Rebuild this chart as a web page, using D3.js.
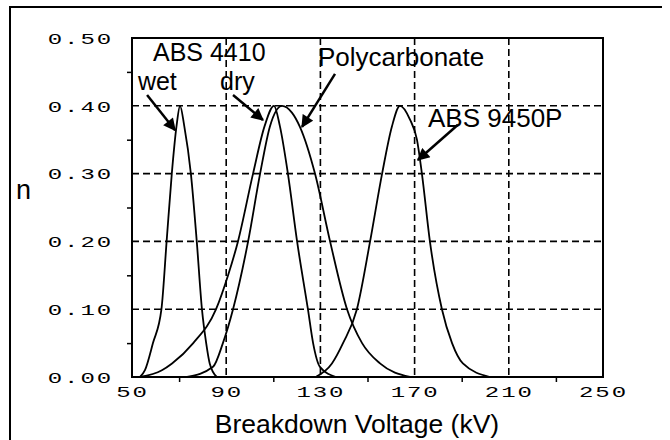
<!DOCTYPE html>
<html>
<head>
<meta charset="utf-8">
<script src="https://cdn.jsdelivr.net/npm/d3@7"></script>
<style>
  body { margin: 0; background: #fff; }
  svg { display: block; }
  .tick-label { font-family: "Liberation Mono", monospace; font-size: 15px; letter-spacing: 1.2px; fill: #000; }
  .note { font-family: "Liberation Sans", Arial, sans-serif; fill: #000; }
</style>
</head>
<body>
<svg id="chart" width="670" height="440"></svg>
<script>
// values: [kV, n]
var absWet = [[53.4, 0], [55.5, 0.01], [58.9, 0.05], [62.5, 0.1], [64.7, 0.2], [66.9, 0.3],
    [68.9, 0.37], [70.4, 0.40], [72.2, 0.37], [75.0, 0.3], [77.5, 0.2], [79.7, 0.1],
    [81.5, 0.05], [83.0, 0.02], [86.0, 0]];
var absDry = [[53.4, 0], [62.7, 0.01], [67.0, 0.02], [76.0, 0.05], [85.7, 0.1], [90.8, 0.15],
    [95.0, 0.2], [101.4, 0.3], [106.3, 0.37], [110.3, 0.40], [112.8, 0.37], [116.2, 0.3],
    [120.1, 0.2], [124.7, 0.1], [126.9, 0.05], [129.8, 0.015], [136.6, 0]];
var polycarb = [[73.4, 0], [84.4, 0.015], [88.6, 0.05], [92.9, 0.1], [99.3, 0.2], [104.4, 0.3],
    [108.6, 0.37], [113.7, 0.40], [117.9, 0.39], [121.3, 0.369], [127.7, 0.3], [134.1, 0.2],
    [141.3, 0.1], [147.7, 0.05], [155.3, 0.02], [168.0, 0]];
var abs9450 = [[128.0, 0], [134.9, 0.02], [139.6, 0.05], [145.5, 0.1], [151.1, 0.2], [156.2, 0.3],
    [160.4, 0.37], [163.8, 0.40], [168.0, 0.38], [171.0, 0.35], [173.1, 0.3], [176.5, 0.2],
    [181.6, 0.1], [185.9, 0.05], [190.5, 0.02], [202.0, 0]];

var xTicks = [50, 90, 130, 170, 210, 250];
var xMinor = [70, 110, 150, 190, 230];
var yTicks = [0, 0.1, 0.2, 0.3, 0.4, 0.5];
var yMinor = [0.05, 0.15, 0.25, 0.35, 0.45];

// label text, label anchor [kV, n], arrow start and tip [kV, n]
var labels = [
    {text: 'ABS 4410', at: [58.9, 0.466], size: 25},
    {text: 'wet', at: [52.5, 0.424], size: 25, from: [56.4, 0.416], to: [68.3, 0.364]},
    {text: 'dry', at: [87.4, 0.424], size: 25, from: [92.9, 0.416], to: [105.6, 0.379]},
    {text: 'Polycarbonate', at: [129.0, 0.459], size: 26, from: [136.2, 0.447], to: [122.2, 0.369]},
    {text: 'ABS 9450P', at: [175.7, 0.369], size: 26, from: [188.4, 0.372], to: [171.4, 0.320]}
];

var svg = d3.select('#chart');
var margin = {left: 132, top: 38, right: 67, bottom: 63};
var width = 670 - margin.left - margin.right;
var height = 440 - margin.top - margin.bottom;

// outer frame of the figure (only left and top edges show)
svg.append('path')
    .attr('d', 'M10,440V7H662')
    .attr('fill', 'none')
    .attr('stroke', '#000')
    .attr('stroke-width', 2);

var x = d3.scaleLinear().domain([50, 250]).range([0, width]);
var y = d3.scaleLinear().domain([0, 0.5]).range([height, 0]);

var g = svg.append('g').attr('transform', 'translate(' + margin.left + ',' + margin.top + ')');

// dashed grid
g.append('g').selectAll('line')
    .data(yTicks.filter(d => d > 0 && d < 0.5))
    .join('line')
    .attr('x1', 0).attr('x2', width)
    .attr('y1', d => y(d)).attr('y2', d => y(d))
    .attr('stroke', '#000').attr('stroke-width', 1.6).attr('stroke-dasharray', '7,4');

g.append('g').selectAll('line')
    .data(xTicks.filter(d => d > 50 && d < 250))
    .join('line')
    .attr('y1', 0).attr('y2', height)
    .attr('x1', d => x(d)).attr('x2', d => x(d))
    .attr('stroke', '#000').attr('stroke-width', 1.6).attr('stroke-dasharray', '7,4');

// minor ticks
g.append('g').call(d3.axisLeft(y).tickValues(yMinor).tickSize(5).tickFormat(''))
    .call(a => a.select('.domain').remove())
    .selectAll('line').attr('stroke-width', 1.5);
g.append('g').attr('transform', 'translate(0,' + height + ')')
    .call(d3.axisBottom(x).tickValues(xMinor).tickSize(5).tickFormat(''))
    .call(a => a.select('.domain').remove())
    .selectAll('line').attr('stroke-width', 1.5);

// tick labels
var yAxis = g.append('g')
    .call(d3.axisLeft(y).tickValues(yTicks).tickSize(0).tickFormat(d3.format('.2f')));
yAxis.select('.domain').remove();
yAxis.selectAll('text')
    .attr('class', 'tick-label')
    .attr('font-family', null).attr('font-size', null)
    .attr('x', -19 / 1.6)
    .attr('dy', '0.35em')
    .attr('transform', 'scale(1.6,1)');

var xAxis = g.append('g').attr('transform', 'translate(0,' + height + ')')
    .call(d3.axisBottom(x).tickValues(xTicks).tickSize(0).tickFormat(d3.format('d')));
xAxis.select('.domain').remove();
xAxis.selectAll('text')
    .attr('class', 'tick-label')
    .attr('font-family', null).attr('font-size', null)
    .attr('y', 15)
    .attr('dy', '0.35em')
    .attr('transform', 'scale(1.6,1)');

// curves
var line = d3.line()
    .x(d => x(d[0]))
    .y(d => y(d[1]))
    .curve(d3.curveMonotoneX);

g.append('g').selectAll('path')
    .data([absWet, absDry, polycarb, abs9450])
    .join('path')
    .attr('d', line)
    .attr('fill', 'none')
    .attr('stroke', '#000')
    .attr('stroke-width', 1.8);

// plot frame
g.append('rect')
    .attr('width', width).attr('height', height)
    .attr('fill', 'none').attr('stroke', '#000').attr('stroke-width', 2);

// annotations
svg.append('defs').append('marker')
    .attr('id', 'head')
    .attr('viewBox', '0 0 10 10')
    .attr('refX', 9).attr('refY', 5)
    .attr('markerWidth', 5.5).attr('markerHeight', 5)
    .attr('markerUnits', 'strokeWidth')
    .attr('orient', 'auto')
    .append('path').attr('d', 'M0,0L10,5L0,10z').attr('fill', '#000');

g.selectAll('.note')
    .data(labels)
    .join('text')
    .attr('class', 'note')
    .attr('x', d => x(d.at[0]))
    .attr('y', d => y(d.at[1]))
    .attr('font-size', d => d.size)
    .text(d => d.text);

g.append('g').selectAll('line')
    .data(labels.filter(d => d.from))
    .join('line')
    .attr('x1', d => x(d.from[0])).attr('y1', d => y(d.from[1]))
    .attr('x2', d => x(d.to[0])).attr('y2', d => y(d.to[1]))
    .attr('stroke', '#000').attr('stroke-width', 2.5)
    .attr('marker-end', 'url(#head)');

// axis titles
svg.append('text')
    .attr('class', 'note')
    .attr('x', 357).attr('y', 433)
    .attr('text-anchor', 'middle')
    .attr('font-size', 26.5)
    .text('Breakdown Voltage (kV)');

svg.append('text')
    .attr('class', 'note')
    .attr('x', 16).attr('y', 199)
    .attr('font-size', 27)
    .text('n');
</script>
</body>
</html>
